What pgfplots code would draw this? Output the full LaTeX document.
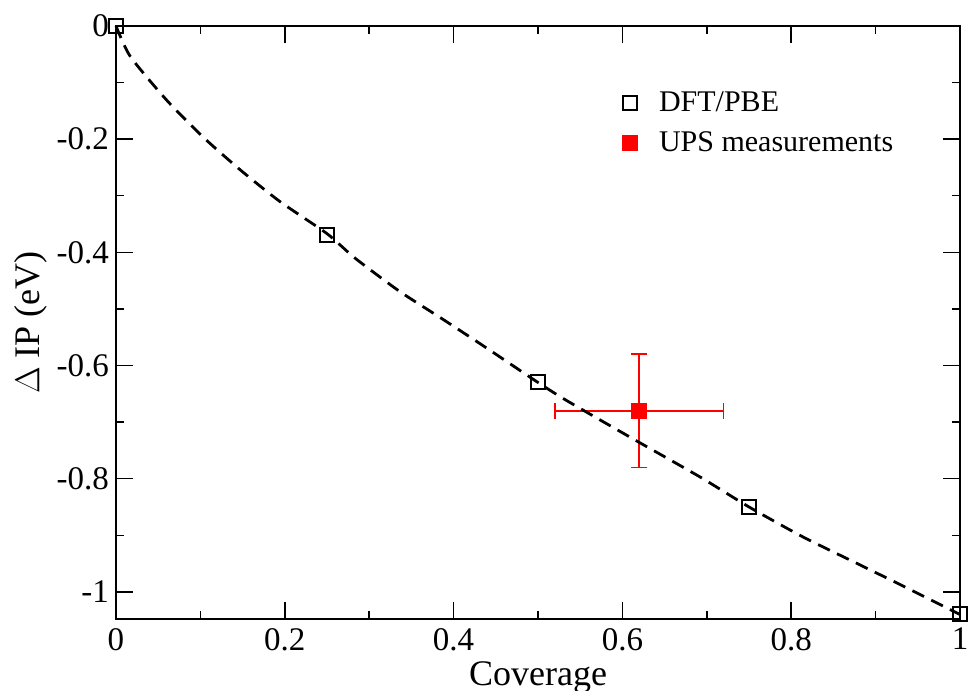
\documentclass[border=0pt]{standalone}
\usepackage{fontspec}
\setmainfont{Liberation Serif}
\usepackage{pgfplots}
\pgfplotsset{compat=1.18}

\pgfplotstableread{
x y
0.00 0.00
0.25 -0.37
0.50 -0.63
0.75 -0.85
1.00 -1.04
}\dft

\pgfplotstableread{
x y ex ey
0.62 -0.68 0.10 0.10
}\ups

% dashed guide
\pgfplotstableread{
x y
0.000 0.000
0.017 -0.054
0.060 -0.131
0.103 -0.196
0.147 -0.254
0.194 -0.310
0.250 -0.367
0.283 -0.410
0.336 -0.469
0.388 -0.519
0.439 -0.569
0.500 -0.630
0.534 -0.662
0.613 -0.730
0.692 -0.797
0.750 -0.850
0.814 -0.903
0.881 -0.952
0.937 -0.993
1.000 -1.040
}\guide

\begin{document}
\begin{tikzpicture}
\begin{axis}[
  scale only axis, width=422pt, height=296.5pt,
  xmin=0, xmax=1, ymin=-1.048, ymax=0,
  clip=false,
  axis line style={line width=1pt},
  xtick={0,0.2,0.4,0.6,0.8,1},
  xticklabels={0,0.2,0.4,0.6,0.8,1},
  ytick={-1,-0.8,-0.6,-0.4,-0.2,0},
  yticklabels={-1,-0.8,-0.6,-0.4,-0.2,0},
  minor tick num=1,
  tick align=inside, tick pos=both,
  major tick length=8.5pt, minor tick length=4pt,
  every tick/.style={line width=0.75pt, black},
  ticklabel style={font=\fontsize{16.5}{18}\selectfont},
  xticklabel style={yshift=-1pt},
  xlabel={Coverage},
  ylabel={$\Delta$ IP (eV)},
  xlabel style={font=\fontsize{18}{20}\selectfont, yshift=1.5pt},
  ylabel style={font=\fontsize{18}{20}\selectfont, yshift=-2pt},
  legend style={at={(rel axis cs:0.592,0.903)}, anchor=north west,
    draw=none, fill=none, font=\fontsize{15}{17}\selectfont, row sep=4.5pt},
  /tikz/every odd column/.append style={column sep=9pt},
  legend cell align=left,
]
\addplot[only marks, mark=square, mark size=3.5pt, mark options={line width=1pt, black}]
  table[x=x, y=y] {\dft};
\addlegendentry{DFT/PBE}
\addplot[only marks, red, mark=square*, mark size=3.75pt,
  error bars/.cd, x dir=both, x explicit, y dir=both, y explicit,
  error bar style={line width=0.8pt, red},
  error mark options={rotate=90, mark size=4pt, line width=0.8pt, red}]
  table[x=x, y=y, x error=ex, y error=ey] {\ups};
\addlegendentry{UPS measurements}
\addplot[forget plot, black, line width=1.4pt, dash pattern=on 6.5pt off 4pt, smooth, tension=0.4]
  table[x=x, y=y] {\guide};
\end{axis}
\pgfresetboundingbox
\path ([xshift=-58pt, yshift=-35.5pt]current axis.south west)
  rectangle ([xshift=4pt, yshift=13pt]current axis.north east);
\end{tikzpicture}
\end{document}
